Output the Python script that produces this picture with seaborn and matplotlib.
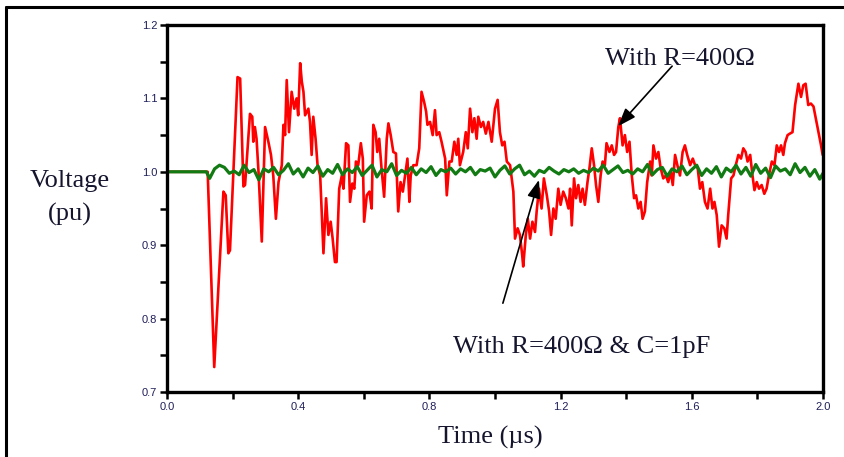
import numpy as np
import pandas as pd
import matplotlib
matplotlib.use("Agg")
import matplotlib.pyplot as plt
from matplotlib.lines import Line2D
import seaborn as sns

# ---------------- data ----------------
# Red: with R = 400 ohm
red_t = [0.000, 0.124, 0.144, 0.172, 0.179, 0.187, 0.192, 0.215, 0.223, 0.233, 0.238, 0.253, 0.260, 0.263, 0.268,
         0.273, 0.279, 0.289, 0.299, 0.309, 0.317, 0.324, 0.332, 0.340, 0.350, 0.355, 0.360, 0.365, 0.372, 0.380,
         0.388, 0.395, 0.400, 0.406, 0.411, 0.416, 0.421, 0.431, 0.436, 0.441, 0.446, 0.453, 0.459, 0.467, 0.477,
         0.485, 0.492, 0.499, 0.505, 0.512, 0.517, 0.525, 0.533, 0.538, 0.546, 0.553, 0.558, 0.565, 0.571, 0.576,
         0.583, 0.591, 0.597, 0.601, 0.609, 0.617, 0.624, 0.629, 0.636, 0.641, 0.647, 0.654, 0.662, 0.670, 0.675,
         0.682, 0.690, 0.698, 0.705, 0.712, 0.719, 0.726, 0.733, 0.739, 0.743, 0.751, 0.761, 0.769, 0.776, 0.784,
         0.790, 0.794, 0.802, 0.810, 0.817, 0.822, 0.830, 0.837, 0.848, 0.853, 0.861,
         0.868, 0.876, 0.883, 0.888, 0.893, 0.903, 0.911, 0.917, 0.924, 0.931, 0.937, 0.944, 0.949, 0.957, 0.964,
         0.972, 0.980, 0.990, 1.000, 1.008, 1.015, 1.022, 1.029, 1.036, 1.046, 1.056, 1.061, 1.069, 1.076, 1.083,
         1.086, 1.094, 1.100, 1.107, 1.114, 1.122, 1.127, 1.134, 1.142, 1.149, 1.158, 1.165, 1.171, 1.178, 1.185,
         1.193, 1.200, 1.208, 1.216, 1.224, 1.229,
         1.234, 1.241, 1.247, 1.254, 1.261, 1.267, 1.274, 1.282, 1.288, 1.295, 1.302, 1.308, 1.315, 1.322, 1.328,
         1.335, 1.340, 1.349, 1.356, 1.363, 1.369, 1.376, 1.381, 1.389, 1.396, 1.403, 1.410, 1.417, 1.424, 1.430,
         1.437, 1.444, 1.450, 1.457, 1.464, 1.473, 1.478, 1.483, 1.491, 1.498, 1.505, 1.513, 1.521, 1.528, 1.536,
         1.542, 1.549, 1.556, 1.564, 1.572, 1.579, 1.586, 1.595, 1.603, 1.610,
         1.618, 1.625, 1.632, 1.640, 1.648, 1.656, 1.663, 1.669, 1.676, 1.683, 1.691, 1.699, 1.706, 1.711, 1.720,
         1.727, 1.734, 1.742, 1.750, 1.757, 1.764, 1.770, 1.778, 1.785, 1.791, 1.798, 1.805, 1.813, 1.821, 1.828,
         1.835, 1.844, 1.852, 1.859, 1.866, 1.872, 1.879, 1.884, 1.892, 1.899, 1.907, 1.915, 1.925, 1.933, 1.940,
         1.947, 1.955, 1.963, 1.971, 1.978, 1.986, 1.994, 1.999]
red_v = [1.000, 1.000, 0.734, 0.973, 0.968, 0.889, 0.893, 1.129, 1.127, 0.980, 0.982, 1.079, 1.075, 1.041, 1.061,
         1.045, 1.000, 0.905, 1.061, 1.041, 1.023, 0.995, 0.936, 0.986, 1.009, 1.064, 1.050, 1.125, 1.054, 1.109,
         1.086, 1.100, 1.077, 1.148, 1.123, 1.109, 1.077, 1.086, 1.068, 1.023, 1.075, 1.045, 1.009, 0.995, 0.889,
         0.964, 0.914, 0.932, 0.909, 0.877, 0.877, 0.977, 0.995, 0.977, 1.039, 1.036, 0.959, 0.984, 0.977, 1.014,
         1.009, 1.039, 1.018, 0.932, 0.968, 0.973, 0.950, 1.064, 1.054, 1.027, 1.045, 1.005, 0.966, 1.045, 1.066,
         1.050, 1.027, 1.025, 0.946, 0.986, 0.973, 0.995, 1.018, 0.959, 0.995, 1.009, 1.009, 1.032, 1.109, 1.095,
         1.082, 1.064, 1.068, 1.050, 1.084, 1.050, 1.054, 1.041, 1.018, 0.968, 1.014,
         1.014, 1.041, 1.023, 1.045, 1.009, 1.027, 1.054, 1.032, 1.086, 1.054, 1.073, 1.045, 1.075, 1.061, 1.068,
         1.052, 1.068, 1.041, 1.086, 1.098, 1.054, 1.036, 1.041, 1.014, 1.009, 0.973, 0.909, 0.923, 0.914, 0.886,
         0.871, 0.914, 0.936, 0.909, 0.932, 0.918, 0.946, 0.977, 0.950, 0.991, 0.968, 0.946, 0.914, 0.950, 0.936,
         0.977, 0.955, 0.973, 0.964, 0.950, 0.977,
         0.927, 0.991, 0.964, 0.982, 0.959, 0.977, 0.955, 0.986, 1.005, 1.032, 1.009, 0.982, 0.959, 0.995, 1.014,
         1.009, 1.039, 1.027, 1.036, 1.023, 1.027, 1.061, 1.073, 1.036, 1.050, 1.027, 1.041, 0.995, 0.964, 0.968,
         0.950, 0.959, 0.936, 0.946, 0.986, 1.014, 0.995, 1.036, 1.018, 1.027, 1.005, 0.991, 0.995, 0.986, 1.000,
         0.982, 1.023, 1.009, 0.995, 1.027, 1.036, 1.023, 1.009, 1.018, 1.009,
         1.005, 0.977, 0.986, 0.959, 0.950, 0.977, 0.950, 0.959, 0.941, 0.898, 0.927, 0.923, 0.909, 0.941, 0.991,
         0.995, 1.009, 1.023, 1.018, 1.032, 1.027, 1.014, 1.023, 0.995, 0.975, 0.986, 0.977, 0.982, 0.970, 0.977,
         0.995, 1.014, 1.009, 1.036, 1.027, 1.036, 1.023, 1.039, 1.050, 1.052, 1.054, 1.091, 1.120, 1.102, 1.118,
         1.120, 1.091, 1.093, 1.089, 1.073, 1.054, 1.036, 1.023]

# Green: with R = 400 ohm & C = 1 pF
green_t = [0.0, 0.12,
           0.13, 0.145, 0.16, 0.175, 0.19, 0.205, 0.22, 0.235, 0.25, 0.265,
           0.28, 0.295, 0.31, 0.325, 0.34, 0.355, 0.37, 0.385, 0.40, 0.415,
           0.43, 0.445, 0.46, 0.475, 0.49, 0.505, 0.52, 0.535, 0.55, 0.565,
           0.58, 0.595, 0.61, 0.625, 0.64, 0.655, 0.67, 0.685, 0.70, 0.715,
           0.73, 0.745, 0.76, 0.775, 0.79, 0.805, 0.82, 0.835, 0.85, 0.865,
           0.88, 0.895, 0.91, 0.925, 0.94, 0.955, 0.97, 0.985, 1.00, 1.015,
           1.03, 1.045, 1.06, 1.075, 1.09, 1.105, 1.12, 1.135, 1.15, 1.165,
           1.18, 1.195, 1.21, 1.225, 1.24, 1.255, 1.27, 1.285, 1.30, 1.315,
           1.33, 1.345, 1.36, 1.375, 1.39, 1.405, 1.42, 1.435, 1.45, 1.465,
           1.48, 1.495, 1.51, 1.525, 1.54, 1.555, 1.57, 1.585, 1.60, 1.615,
           1.63, 1.645, 1.66, 1.675, 1.69, 1.705, 1.72, 1.735, 1.75, 1.765,
           1.78, 1.795, 1.81, 1.825, 1.84, 1.855, 1.87, 1.885, 1.90, 1.915,
           1.93, 1.945, 1.96, 1.975, 1.99, 2.0]
green_v = [1.000, 1.000,
           0.991, 1.004, 1.009, 1.006, 0.998, 1.001, 0.996, 1.009, 0.999, 1.003,
           0.989, 1.004, 1.000, 1.006, 0.996, 1.002, 1.011, 0.997, 1.004, 0.993,
           1.005, 0.999, 1.008, 0.994, 1.003, 0.998, 1.010, 0.996, 1.004, 0.999,
           1.007, 0.995, 1.002, 1.009, 0.993, 1.003, 1.000, 1.011, 0.995, 1.002,
           0.998, 1.006, 0.996, 1.004, 0.999, 1.007, 0.995, 1.003, 1.000, 1.005,
           0.997, 1.004, 1.000, 1.006, 0.996, 1.003, 1.001, 1.005, 0.993, 1.002,
           1.008, 0.997, 1.004, 1.009, 0.996, 1.001, 0.994, 1.002, 0.999, 1.006,
           1.001, 0.997, 1.003, 1.000, 1.004, 0.998, 1.002, 0.999, 1.005, 1.001,
           1.009, 0.998, 1.003, 1.008, 0.999, 1.002, 0.997, 1.004, 1.000, 1.010,
           0.996, 1.003, 1.006, 0.994, 1.004, 1.000, 1.008, 0.996, 1.003, 1.009,
           0.995, 1.004, 0.998, 1.007, 0.993, 1.005, 1.000, 1.009, 0.997, 1.006,
           0.994, 1.010, 0.998, 1.005, 0.992, 1.008, 1.001, 1.004, 0.996, 1.011,
           0.999, 1.006, 0.994, 1.003, 0.990, 0.998]

x_ticks = [0.0, 0.2, 0.4, 0.6, 0.8, 1.0, 1.2, 1.4, 1.6, 1.8, 2.0]
x_tick_labels = ["0.0", "", "0.4", "", "0.8", "", "1.2", "", "1.6", "", "2.0"]
y_ticks = [0.70, 0.75, 0.80, 0.85, 0.90, 0.95, 1.00, 1.05, 1.10, 1.15, 1.20]
y_tick_labels = ["0.7", "", "0.8", "", "0.9", "", "1.0", "", "1.1", "", "1.2"]

label_r = "With R=400Ω"
label_rc = "With R=400Ω & C=1pF"

# ---------------- styling ----------------
sns.set_theme(style="white")
plt.rcParams["font.family"] = ["Liberation Serif", "DejaVu Serif"]

W, H = 845, 457
fig, ax = plt.subplots(figsize=(W / 100, H / 100), dpi=100)
fig.subplots_adjust(left=167 / W, right=823 / W, bottom=1 - 392 / H, top=1 - 25 / H)

df_red = pd.DataFrame({"t": red_t, "v": red_v})
df_green = pd.DataFrame({"t": green_t, "v": green_v})

sns.lineplot(data=df_red, x="t", y="v", ax=ax, color="#ff0000", lw=1.9,
             estimator=None, sort=False, legend=False)
sns.lineplot(data=df_green, x="t", y="v", ax=ax, color="#127a12", lw=2.3,
             estimator=None, sort=False, legend=False)

ax.set_xlim(0, 2.0)
ax.set_ylim(0.7, 1.2)
ax.set_xticks(x_ticks)
ax.set_xticklabels(x_tick_labels)
ax.set_yticks(y_ticks)
ax.set_yticklabels(y_tick_labels)
ax.set_xlabel("")
ax.set_ylabel("")
ax.grid(False)

tick_color = "#1f1f5a"
ax.tick_params(axis="both", which="major", direction="out", length=5, width=1.8,
               color="black", labelcolor=tick_color, labelsize=8, pad=2,
               bottom=True, left=True, top=False, right=False)
for lbl in ax.get_xticklabels() + ax.get_yticklabels():
    lbl.set_fontfamily(["Liberation Sans", "DejaVu Sans"])

for s in ax.spines.values():
    s.set_linewidth(2.4)
    s.set_color("black")

text_color = "#15152e"
# annotations
ax.text(1.5625, 1.1455, label_r, ha="center", va="baseline", fontsize=19, color=text_color)
ax.annotate("", xy=(1.375, 1.062), xytext=(1.540, 1.144),
            arrowprops=dict(arrowstyle="-|>,head_length=1.1,head_width=0.4", color="black",
                            lw=1.2, shrinkA=0, shrinkB=0, mutation_scale=10))
ax.text(1.264, 0.753, label_rc, ha="center", va="baseline", fontsize=19, color=text_color)
ax.annotate("", xy=(1.134, 0.989), xytext=(1.024, 0.821),
            arrowprops=dict(arrowstyle="-|>,head_length=1.1,head_width=0.4", color="black",
                            lw=1.2, shrinkA=0, shrinkB=0, mutation_scale=10))

# axis titles
fig.text(70 / W, 1 - 181 / H, "Voltage", ha="center", va="center", fontsize=19, color=text_color)
fig.text(70 / W, 1 - 214 / H, "(pu)", ha="center", va="center", fontsize=19, color=text_color)
fig.text(490 / W, 1 - 437 / H, "Time (µs)", ha="center", va="center", fontsize=19, color=text_color)

# outer frame (top and left edges)
fig.add_artist(Line2D([6 / W, 6 / W], [0, 1 - 7 / H], transform=fig.transFigure, color="black", lw=2.2))
fig.add_artist(Line2D([6 / W, 1], [1 - 7 / H, 1 - 7 / H], transform=fig.transFigure, color="black", lw=2.2))

fig.savefig("out.png", dpi=100)
